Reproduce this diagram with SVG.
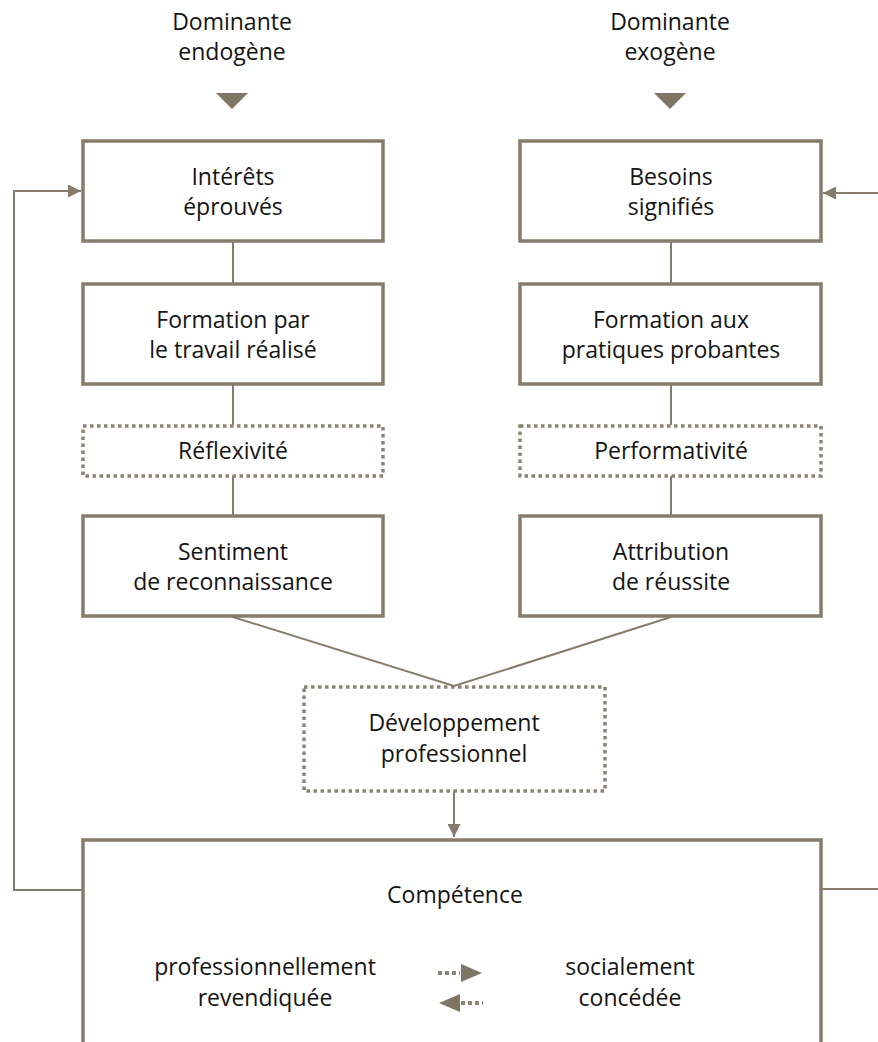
<svg xmlns="http://www.w3.org/2000/svg" width="878" height="1042" viewBox="0 0 878 1042">
<style>
  .box { fill: #ffffff; stroke: #857c6c; stroke-width: 3.5; }
  .dot { fill: #ffffff; stroke: #8a8477; stroke-width: 3.5; stroke-dasharray: 3.5 3.5; }
  .ln { fill: none; stroke: #857c6c; stroke-width: 2; }
  .t { font-family: "Open Sans", "Liberation Sans", sans-serif; font-size: 23px; fill: #141414; text-anchor: middle; }
  .tri { fill: #7e7564; }
</style>
<defs>
  <marker id="ah" viewBox="0 0 10 10" refX="10" refY="5" markerWidth="6.5" markerHeight="6.5" orient="auto" markerUnits="strokeWidth">
    <path d="M0,0 L10,5 L0,10 Z" fill="#857c6c"/>
  </marker>
</defs>
<rect width="878" height="1042" fill="#ffffff"/>

<g id="connectors">
  <line class="ln" x1="233" y1="242" x2="233" y2="283"/>
  <line class="ln" x1="233" y1="384" x2="233" y2="425"/>
  <line class="ln" x1="233" y1="476" x2="233" y2="516"/>
  <line class="ln" x1="671" y1="242" x2="671" y2="283"/>
  <line class="ln" x1="671" y1="384" x2="671" y2="425"/>
  <line class="ln" x1="671" y1="476" x2="671" y2="516"/>
  <polyline class="ln" points="233,617 454,686 671,617"/>
  <line class="ln" x1="454" y1="791" x2="454" y2="837" marker-end="url(#ah)"/>
  <polyline class="ln" points="83,890 14,890 14,191 81,191" marker-end="url(#ah)"/>
  <line class="ln" x1="821" y1="889" x2="878" y2="889"/>
  <line class="ln" x1="878" y1="193" x2="823" y2="193" marker-end="url(#ah)"/>
</g>

<g id="dominante-endogene">
  <text class="t" x="232" y="30">Dominante</text>
  <text class="t" x="232" y="60">endogène</text>
  <polygon class="tri" points="216,93 248,93 232,109"/>
</g>
<g id="dominante-exogene">
  <text class="t" x="670" y="30">Dominante</text>
  <text class="t" x="670" y="60">exogène</text>
  <polygon class="tri" points="654,93 686,93 670,109"/>
</g>

<g id="interets">
  <rect class="box" x="83" y="141" width="300" height="100"/>
  <text class="t" x="233" y="185">Intérêts</text>
  <text class="t" x="233" y="215">éprouvés</text>
</g>
<g id="besoins">
  <rect class="box" x="520" y="141" width="301" height="100"/>
  <text class="t" x="671" y="185">Besoins</text>
  <text class="t" x="671" y="215">signifiés</text>
</g>
<g id="formation-travail">
  <rect class="box" x="83" y="284" width="300" height="100"/>
  <text class="t" x="233" y="328">Formation par</text>
  <text class="t" x="233" y="358">le travail réalisé</text>
</g>
<g id="formation-pratiques">
  <rect class="box" x="520" y="284" width="301" height="100"/>
  <text class="t" x="671" y="328">Formation aux</text>
  <text class="t" x="671" y="358">pratiques probantes</text>
</g>
<g id="reflexivite">
  <rect class="dot" x="83" y="426" width="300" height="50"/>
  <text class="t" x="233" y="459">Réflexivité</text>
</g>
<g id="performativite">
  <rect class="dot" x="520" y="426" width="301" height="50"/>
  <text class="t" x="671" y="459">Performativité</text>
</g>
<g id="sentiment">
  <rect class="box" x="83" y="516" width="300" height="100"/>
  <text class="t" x="233" y="560">Sentiment</text>
  <text class="t" x="233" y="590">de reconnaissance</text>
</g>
<g id="attribution">
  <rect class="box" x="520" y="516" width="301" height="100"/>
  <text class="t" x="671" y="560">Attribution</text>
  <text class="t" x="671" y="590">de réussite</text>
</g>
<g id="developpement">
  <rect class="dot" x="304" y="687" width="301" height="104"/>
  <text class="t" x="454" y="731">Développement</text>
  <text class="t" x="454" y="762">professionnel</text>
</g>
<g id="competence">
  <rect class="box" x="83" y="840" width="738" height="230"/>
  <text class="t" x="455" y="903">Compétence</text>
  <text class="t" x="265" y="975">professionnellement</text>
  <text class="t" x="265" y="1006">revendiquée</text>
  <text class="t" x="630" y="975">socialement</text>
  <text class="t" x="630" y="1006">concédée</text>
  <line x1="438" y1="973" x2="460" y2="973" stroke="#8a8477" stroke-width="4" stroke-dasharray="4 3"/>
  <polygon class="tri" points="461,964 482,973 461,982"/>
  <polygon class="tri" points="439,1003 460,994 460,1012"/>
  <line x1="461" y1="1003" x2="483" y2="1003" stroke="#8a8477" stroke-width="4" stroke-dasharray="4 3"/>
</g>
</svg>
